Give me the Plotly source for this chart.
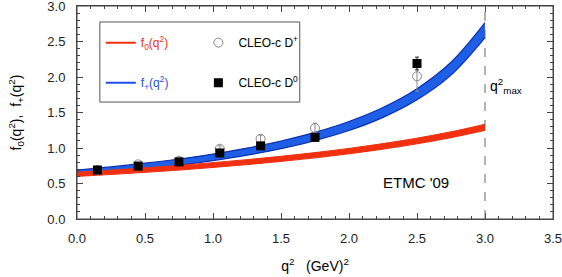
import plotly.graph_objects as go

# ---- data ----
q2_grid = [0.0, 0.25, 0.5, 0.75, 1.0, 1.25, 1.5, 1.75, 2.0, 2.25, 2.5, 2.75, 3.0]
fplus_lower = [0.61, 0.654, 0.702, 0.757, 0.823, 0.899, 0.991, 1.105, 1.246, 1.431, 1.679, 2.027, 2.555]
fplus_upper = [0.69, 0.734, 0.786, 0.845, 0.915, 0.999, 1.099, 1.221, 1.374, 1.571, 1.835, 2.207, 2.765]
fzero_lower = [0.60, 0.627, 0.657, 0.689, 0.726, 0.766, 0.811, 0.861, 0.918, 0.984, 1.059, 1.146, 1.248]
fzero_upper = [0.66, 0.689, 0.721, 0.755, 0.794, 0.836, 0.883, 0.935, 0.994, 1.062, 1.139, 1.228, 1.334]

q2_bins = [0.15, 0.45, 0.75, 1.05, 1.35, 1.75, 2.5]
dplus_vals = [0.69, 0.77, 0.82, 0.99, 1.13, 1.28, 2.01]
dplus_err = [0.03, 0.03, 0.04, 0.04, 0.05, 0.07, 0.21]
dzero_vals = [0.69, 0.745, 0.805, 0.93, 1.03, 1.15, 2.19]
dzero_err = [0.02, 0.03, 0.03, 0.03, 0.04, 0.05, 0.09]

q2_max = 3.0
x_range = [0, 3.5]
y_range = [0, 3.0]

FONT = "Liberation Sans"
BLUE_FILL = "#1f5fe8"
BLUE_EDGE = "#0a2fb0"
RED = "#f0300f"
AX = "#444444"

fig = go.Figure()

# f+ band
fig.add_trace(go.Scatter(x=q2_grid, y=fplus_lower, mode="lines", line=dict(color=BLUE_EDGE, width=1.2, shape="spline"),
                         showlegend=False, hoverinfo="skip"))
fig.add_trace(go.Scatter(x=q2_grid, y=fplus_upper, mode="lines", line=dict(color=BLUE_EDGE, width=1.2, shape="spline"),
                         fill="tonexty", fillcolor=BLUE_FILL, showlegend=False, hoverinfo="skip"))
# f0 band
fig.add_trace(go.Scatter(x=q2_grid, y=fzero_lower, mode="lines", line=dict(color=RED, width=1, shape="spline"),
                         showlegend=False, hoverinfo="skip"))
fig.add_trace(go.Scatter(x=q2_grid, y=fzero_upper, mode="lines", line=dict(color=RED, width=1, shape="spline"),
                         fill="tonexty", fillcolor=RED, showlegend=False, hoverinfo="skip"))

# data points
fig.add_trace(go.Scatter(x=q2_bins, y=dplus_vals, mode="markers",
                         error_y=dict(type="data", array=dplus_err, color="#888888", thickness=1, width=2),
                         marker=dict(symbol="circle-open", size=9, color="#888888", line=dict(width=1)),
                         name="CLEO-c D<sup>+</sup>", legend="legend2", legendgroup="c"))
fig.add_trace(go.Scatter(x=q2_bins, y=dzero_vals, mode="markers",
                         error_y=dict(type="data", array=dzero_err, color="#222222", thickness=1, width=2),
                         marker=dict(symbol="square", size=9, color="black"),
                         name="CLEO-c D<sup>0</sup>", legend="legend2", legendgroup="d"))

# legend-only line entries
fig.add_trace(go.Scatter(x=[None], y=[None], mode="lines", line=dict(color=RED, width=2),
                         name='<span style="color:#f0300f">f<sub>0</sub>(q<sup>2</sup>)</span>', legend="legend",
                         legendgroup="a"))
fig.add_trace(go.Scatter(x=[None], y=[None], mode="lines", line=dict(color="#1f4fe8", width=2),
                         name='<span style="color:#1f4fe8">f<sub>+</sub>(q<sup>2</sup>)</span>', legend="legend",
                         legendgroup="b"))

# invisible trace to activate the mirrored (top/right) tick axes
fig.add_trace(go.Scatter(x=[None], y=[None], xaxis="x2", yaxis="y2", showlegend=False, hoverinfo="skip"))

# q2max dashed line
fig.add_shape(type="line", x0=q2_max, x1=q2_max, y0=y_range[0], y1=y_range[1], xref="x", yref="y",
              line=dict(color="#666666", width=1, dash="dash"))

# plot frame
fig.add_shape(type="rect", xref="paper", yref="paper", x0=0, x1=1, y0=0, y1=1,
              line=dict(color=AX, width=1), fillcolor="rgba(0,0,0,0)", layer="above")

# legend frame
fig.add_shape(type="rect", xref="paper", yref="paper", x0=0.048, x1=0.468, y0=0.549, y1=0.925,
              line=dict(color="#555555", width=1), fillcolor="rgba(0,0,0,0)")

fig.add_annotation(x=q2_max + 0.02, y=1.87, xref="x", yref="y", xanchor="left", showarrow=False,
                   text="q<sup>2</sup><sub>max</sub>", font=dict(family=FONT, size=14, color="black"))
fig.add_annotation(x=2.49, y=0.51, xref="x", yref="y", showarrow=False,
                   text="ETMC '09", font=dict(family=FONT, size=15, color="black"))

tick_common = dict(ticks="inside", ticklen=6, tickcolor=AX, showgrid=False, zeroline=False,
                   automargin=False, showline=True, linecolor=AX, linewidth=1)
minor = dict(dtick=0.1, ticks="inside", ticklen=3, tickcolor=AX, showgrid=False)

fig.update_layout(
    xaxis=dict(range=x_range, dtick=0.5, tickformat=".1f", minor=minor,
               tickfont=dict(family=FONT, size=13, color="#222222"), ticklabeloverflow="allow",
               ticklabelstandoff=7,
               title=dict(text="q<sup>2</sup>   (GeV)<sup>2</sup>", font=dict(family=FONT, size=14, color="black"), standoff=16),
               **tick_common),
    yaxis=dict(range=y_range, dtick=0.5, tickformat=".1f", minor=minor,
               tickfont=dict(family=FONT, size=13, color="#222222"), ticklabeloverflow="allow",
               ticklabelstandoff=8,
               title=dict(text="f<sub>0</sub>(q<sup>2</sup>),  f<sub>+</sub>(q<sup>2</sup>)", font=dict(family=FONT, size=14, color="black"), standoff=22),
               **tick_common),
    xaxis2=dict(range=x_range, dtick=0.5, minor=minor, overlaying="x", side="top", anchor="y2",
                showticklabels=False, **tick_common),
    yaxis2=dict(range=y_range, dtick=0.5, minor=minor, overlaying="y", side="right", anchor="x2",
                showticklabels=False, **tick_common),
    width=562, height=277,
    margin=dict(l=77, r=9, t=6, b=58),
    paper_bgcolor="white", plot_bgcolor="white",
    font=dict(family=FONT, size=12, color="black"),
    legend=dict(x=0.05, y=0.896, xanchor="left", yanchor="top", bgcolor="rgba(0,0,0,0)",
                tracegroupgap=21, font=dict(family=FONT, size=12), itemwidth=30),
    legend2=dict(x=0.255, y=0.896, xanchor="left", yanchor="top", bgcolor="rgba(0,0,0,0)",
                 tracegroupgap=21, font=dict(family=FONT, size=12, color="black"), itemwidth=30),
)

fig.write_html("out.html", config={"displayModeBar": False},
               post_script="document.body.style.margin='0';")
